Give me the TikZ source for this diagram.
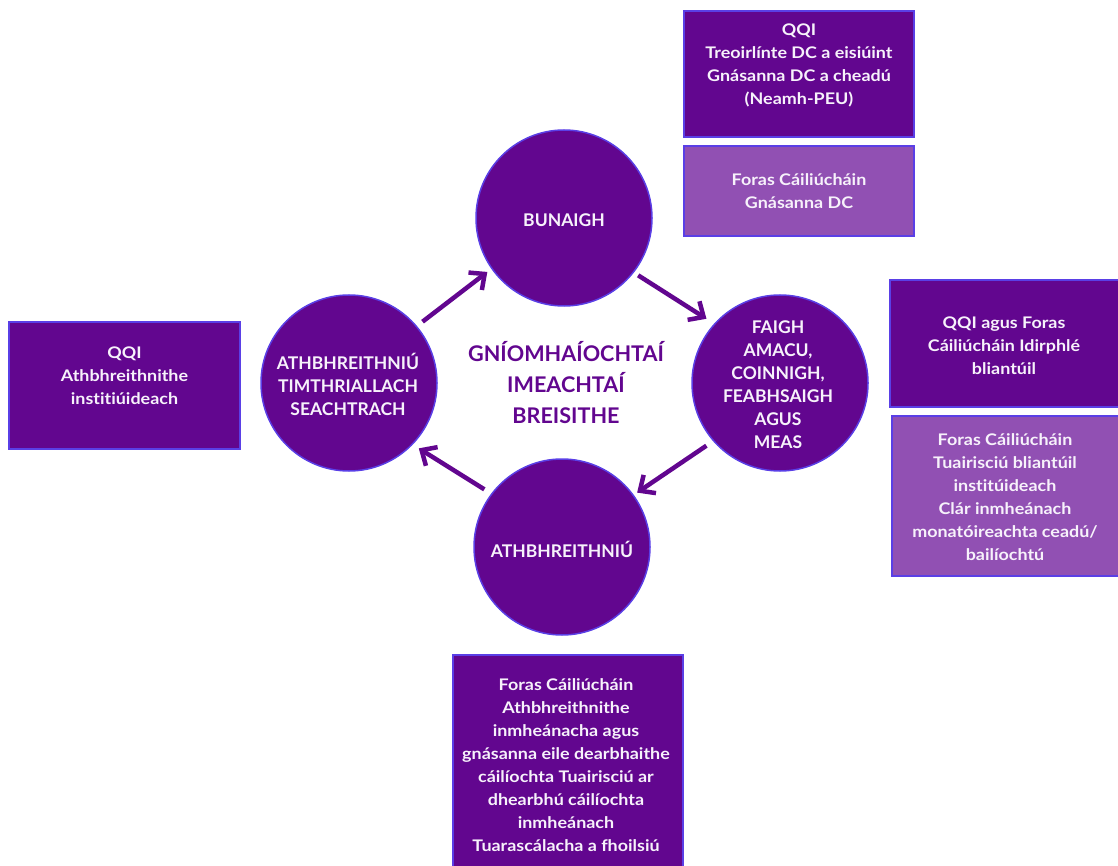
\documentclass[tikz,border=0pt]{standalone}
\usepackage{fontspec}
\setmainfont{Lato}[Ligatures=NoCommon]
\newfontfamily\boxfont{Lato}[Ligatures=NoCommon, FakeStretch=1.12]
\usetikzlibrary{arrows.meta}
\definecolor{dp}{HTML}{62068F}
\definecolor{lp}{HTML}{9150B3}
\definecolor{bd}{HTML}{5A3FE6}
\definecolor{tx}{HTML}{F7F2FB}
\tikzset{
  box/.style={draw=bd, line width=2pt, inner sep=0pt},
  dbox/.style={box, fill=dp},
  lbox/.style={box, fill=lp},
  btext/.style={text=tx, font=\boxfont\fontsize{16}{23}\selectfont\bfseries, align=center, inner sep=0pt},
  circ/.style={circle, draw=bd, line width=1.5pt, fill=dp, minimum size=176pt, inner sep=0pt},
  ctext/.style={text=tx, font=\fontsize{17.5}{23}\selectfont\bfseries, align=center, inner sep=0pt},
  arr/.style={draw=dp, line width=4.5pt, -{Straight Barb[length=12pt,width=22pt]}},
}
\begin{document}
\begin{tikzpicture}[x=1pt,y=-1pt]
\useasboundingbox (0,0) rectangle (1118,866);
% circles
\node[circ] (B) at (564,218) {};
\node[circ] (F) at (780,383) {};
\node[circ] (R) at (562,547) {};
\node[circ] (L) at (349,383) {};
\node[ctext] (Bt) at (564,220) {BUNAIGH};
\node[ctext] (Ft) at (778,384.5) {FAIGH\\AMACU,\\COINNIGH,\\FEABHSAIGH\\AGUS\\MEAS};
\node[ctext] (Rt) at (562,549) {ATHBHREITHNIÚ};
\node[ctext] (Lt) at (348,384) {ATHBHREITHNIÚ\\TIMTHRIALLACH\\SEACHTRACH};
% centre text
\node[text=dp, font=\fontsize{21.6}{31}\selectfont\bfseries, align=center, inner sep=0pt] (C) at (566,382.5) {GNÍOMHAÍOCHTAÍ\\IMEACHTAÍ\\BREISITHE};
% arrows
\draw[arr, shorten <=7pt, shorten >=5pt] (L.40) -- (B.215);
\draw[arr, shorten <=5pt, shorten >=9pt] (B.-38) -- (F.138);
\draw[arr, shorten <=8pt, shorten >=4pt] (F.221) -- (R.36);
\draw[arr, shorten <=8pt, shorten >=7pt] (R.143) -- (L.-44);
% boxes
\node[dbox, minimum width=230pt, minimum height=126pt] (T1) at (799,74) {};
\node[btext] (T1t) at (799,65.5) {QQI\\Treoirlínte DC a eisiúint\\Gnásanna DC a cheadú\\(Neamh-PEU)};
\node[lbox, minimum width=230pt, minimum height=90pt] (T2) at (799,191) {};
\node[btext] (T2t) at (799,191.5) {Foras Cáiliúcháin\\Gnásanna DC};
\node[dbox, minimum width=230pt, minimum height=126pt] (S1) at (1005,343.5) {};
\node[btext] (S1t) at (1004,346) {QQI agus Foras\\Cáiliúcháin Idirphlé\\bliantúil};
\node[lbox, minimum width=230pt, minimum height=160pt] (S2) at (1007,496) {};
\node[btext] (S2t) at (1005,497.5) {Foras Cáiliúcháin\\Tuairisciú bliantúil\\institúideach\\Clár inmheánach\\monatóireachta ceadú/\\bailíochtú};
\node[dbox, minimum width=231pt, minimum height=127pt] (W1) at (124.5,385.5) {};
\node[btext] (W1t) at (124.5,376) {QQI\\Athbhreithnithe\\institiúideach};
\node[dbox, minimum width=230pt, minimum height=225pt] (D1) at (567.5,767.5) {};
\node[btext] (D1t) at (566,765) {Foras Cáiliúcháin\\Athbhreithnithe\\inmheánacha agus\\gnásanna eile dearbhaithe\\cáilíochta Tuairisciú ar\\dhearbhú cáilíochta\\inmheánach\\Tuarascálacha a fhoilsiú};
\end{tikzpicture}
\end{document}
